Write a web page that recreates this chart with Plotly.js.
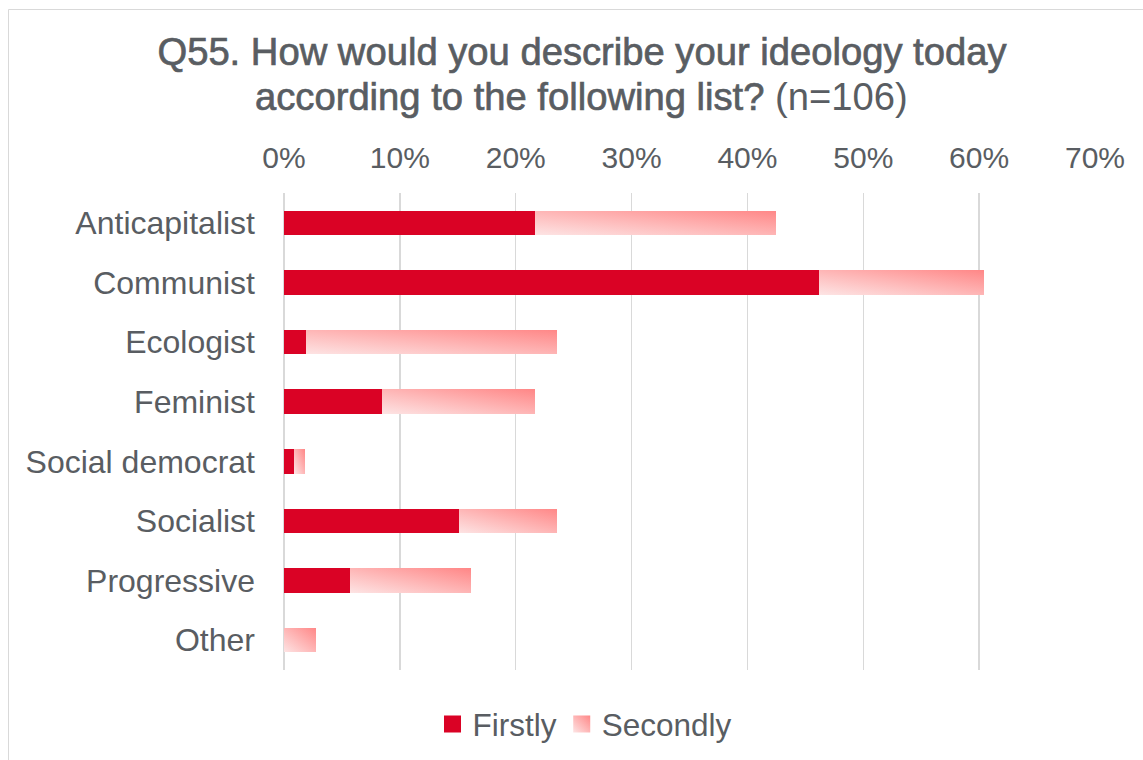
<!DOCTYPE html>
<html>
<head>
<meta charset="utf-8">
<script src="https://cdn.plot.ly/plotly-3.0.1.min.js"></script>
<style>
  html, body { margin: 0; padding: 0; background: #ffffff; }
  #chart { width: 1143px; height: 760px; }
</style>
</head>
<body>
<div id="chart"></div>
<script>
// ---- data (percent of respondents, n=106) ----
const categories = ['Anticapitalist', 'Communist', 'Ecologist', 'Feminist', 'Social democrat', 'Socialist', 'Progressive', 'Other'];
const firstly  = [21.7, 46.2, 1.9, 8.5, 0.9, 15.1, 5.7, 0];
const secondly = [20.8, 14.2, 21.7, 13.2, 0.9, 8.5, 10.4, 2.8];
const seriesNames = ['Firstly', 'Secondly'];
const tickVals = [0, 10, 20, 30, 40, 50, 60, 70];
const tickText = ['0%', '10%', '20%', '30%', '40%', '50%', '60%', '70%'];
const titleLine1 = 'Q55. How would you describe your ideology today';
const titleLine2 = 'according to the following list?';
const titleNote = '(n=106)';

const textColor = '#595d62';
const gridColor = '#d9d9d9';
const font = 'Liberation Sans, Arial, sans-serif';
const heavy = 'stroke:' + textColor + ';stroke-width:0.7px';

const traces = [
  {
    type: 'bar', orientation: 'h', name: seriesNames[0],
    y: categories, x: firstly,
    marker: { color: '#da0225', line: { width: 0 } },
    hoverinfo: 'skip'
  },
  {
    type: 'bar', orientation: 'h', name: seriesNames[1],
    y: categories, x: secondly,
    marker: { color: '#fbb6b6', line: { width: 0 } },
    hoverinfo: 'skip'
  }
];

const W = 1143, H = 760;
const L = 284, R = W - 1095, T = 193, B = H - 670;
const pw = W - L - R, ph = H - T - B;

const layout = {
  width: W, height: H,
  paper_bgcolor: '#ffffff', plot_bgcolor: '#ffffff',
  margin: { l: L, r: R, t: T, b: B, pad: 0 },
  font: { family: font, color: textColor, size: 30 },
  barmode: 'stack',
  bargap: 0.59,
  showlegend: true,
  title: {
    text: '<span style="' + heavy + '">' + titleLine1 + '</span>',
    font: { family: font, size: 38.2, color: textColor },
    x: 582 / W, xref: 'container', xanchor: 'center',
    y: 1 - 52 / H, yref: 'container', yanchor: 'middle'
  },
  annotations: [
    {
      text: '<span style="' + heavy + '">' + titleLine2 + '</span> ' + titleNote,
      xref: 'paper', yref: 'paper',
      x: (581 - L) / pw, xanchor: 'center',
      y: 1 + (T - 96) / ph, yanchor: 'middle',
      showarrow: false,
      font: { family: font, size: 38.2, color: textColor }
    }
  ],
  xaxis: {
    side: 'top',
    range: [0, 70],
    tickvals: tickVals, ticktext: tickText,
    showgrid: true, gridcolor: gridColor, gridwidth: 1.5,
    zeroline: true, zerolinecolor: gridColor, zerolinewidth: 1.5,
    showline: false, ticks: '',
    tickfont: { family: font, size: 30, color: textColor },
    ticklabelstandoff: 18,
    fixedrange: true
  },
  yaxis: {
    type: 'category',
    categoryorder: 'array', categoryarray: categories,
    autorange: 'reversed',
    showgrid: false, zeroline: false, showline: false, ticks: '',
    tickfont: { family: font, size: 32, color: textColor },
    ticklabelstandoff: 28,
    fixedrange: true
  },
  legend: {
    orientation: 'h',
    xref: 'container', yref: 'container',
    x: 585 / W, xanchor: 'center',
    y: (H - 724) / H, yanchor: 'middle',
    font: { family: font, size: 31.5, color: textColor },
    traceorder: 'normal',
    itemclick: false, itemdoubleclick: false
  },
  shapes: [
    {
      type: 'rect', xref: 'paper', yref: 'paper', layer: 'below',
      x0: (8.5 - L) / pw, x1: 1.2,
      y0: -0.5, y1: 1 + (T - 9.5) / ph,
      line: { color: gridColor, width: 1 }, fillcolor: 'rgba(0,0,0,0)'
    }
  ]
};

Plotly.newPlot('chart', traces, layout, { displayModeBar: false, staticPlot: true }).then(function (gd) {
  const svgNS = 'http://www.w3.org/2000/svg';
  const defs = gd.querySelector('svg.main-svg defs');
  const grad = document.createElementNS(svgNS, 'linearGradient');
  grad.setAttribute('id', 'secGrad');
  grad.setAttribute('x1', '0'); grad.setAttribute('y1', '1');
  grad.setAttribute('x2', '1'); grad.setAttribute('y2', '0');
  [['0', '#fde4e4'], ['1', '#ff8787']].forEach(function (s) {
    const st = document.createElementNS(svgNS, 'stop');
    st.setAttribute('offset', s[0]);
    st.setAttribute('stop-color', s[1]);
    grad.appendChild(st);
  });
  defs.appendChild(grad);
  const barTraces = gd.querySelectorAll('.barlayer .trace');
  if (barTraces[1]) {
    barTraces[1].querySelectorAll('path').forEach(function (p) { p.style.fill = 'url(#secGrad)'; });
  }
  const legTraces = gd.querySelectorAll('.legend .traces');
  legTraces.forEach(function (t, i) {
    t.querySelectorAll('.legendpoints path').forEach(function (p) {
      p.setAttribute('d', 'M8.5,8.5H-8.5V-8.5H8.5Z');
      if (i === 1) p.style.fill = 'url(#secGrad)';
    });
  });
});
</script>
</body>
</html>
